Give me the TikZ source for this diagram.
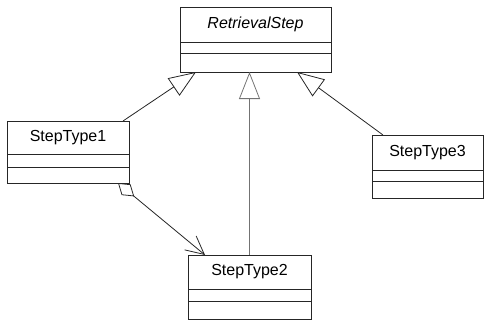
\documentclass[tikz,border=0pt]{standalone}
\usepackage{fontspec}
\setmainfont{Liberation Sans}
\usetikzlibrary{arrows.meta,calc}

\begin{document}
\begin{tikzpicture}[x=1pt,y=-1pt,
    namebox/.style={draw=black!85,fill=white,line width=0.9pt,inner sep=0pt,outer sep=0pt,
      font=\fontsize{16}{19}\selectfont},
    compbox/.style={draw=black!85,fill=white,line width=0.9pt,inner sep=0pt,outer sep=0pt},
    inherit/.style={draw=black!85,line width=0.8pt,-{Triangle[open,length=27pt,width=21pt]}},
    aggr/.style={draw=black!85,line width=0.8pt,
      {Diamond[open,length=21pt,width=14pt]}-{Straight Barb[length=18pt,width=18pt]}}]
  \useasboundingbox (0,0) rectangle (485,324);

  % parent class
  \node[namebox,minimum width=151,minimum height=35,anchor=north west] (rs) at (180,7) {\itshape RetrievalStep};
  \node[compbox,minimum width=151,minimum height=11,anchor=north] (rsa) at (rs.south) {};
  \node[compbox,minimum width=151,minimum height=19,anchor=north] (rsb) at (rsa.south) {};

  % StepType1
  \node[namebox,minimum width=122,minimum height=33,anchor=north west] (st1) at (7,121) {StepType1};
  \node[compbox,minimum width=122,minimum height=13,anchor=north] (st1a) at (st1.south) {};
  \node[compbox,minimum width=122,minimum height=16,anchor=north] (st1b) at (st1a.south) {};

  % StepType2
  \node[namebox,minimum width=123,minimum height=34,anchor=north west] (st2) at (188,255) {StepType2};
  \node[compbox,minimum width=123,minimum height=12,anchor=north] (st2a) at (st2.south) {};
  \node[compbox,minimum width=123,minimum height=18,anchor=north] (st2b) at (st2a.south) {};

  % StepType3
  \node[namebox,minimum width=111,minimum height=35,anchor=north west] (st3) at (372,135) {StepType3};
  \node[compbox,minimum width=111,minimum height=11,anchor=north] (st3a) at (st3.south) {};
  \node[compbox,minimum width=111,minimum height=17,anchor=north] (st3b) at (st3a.south) {};

  % generalisations
  \draw[inherit] ($(st1.north east)+(-6,0)$) -- ($(rsb.south west)+(16,0)$);
  \draw[inherit,draw=black!55] (st2.north) -- (st2.north |- rsb.south);
  \draw[inherit] ($(st3.north west)+(11,0)$) -- ($(rsb.south east)+(-34,0)$);

  % aggregation
  \draw[aggr] ($(st1b.south east)+(-11,0)$) -- ($(st2.north west)+(17,0)$);
\end{tikzpicture}
\end{document}
